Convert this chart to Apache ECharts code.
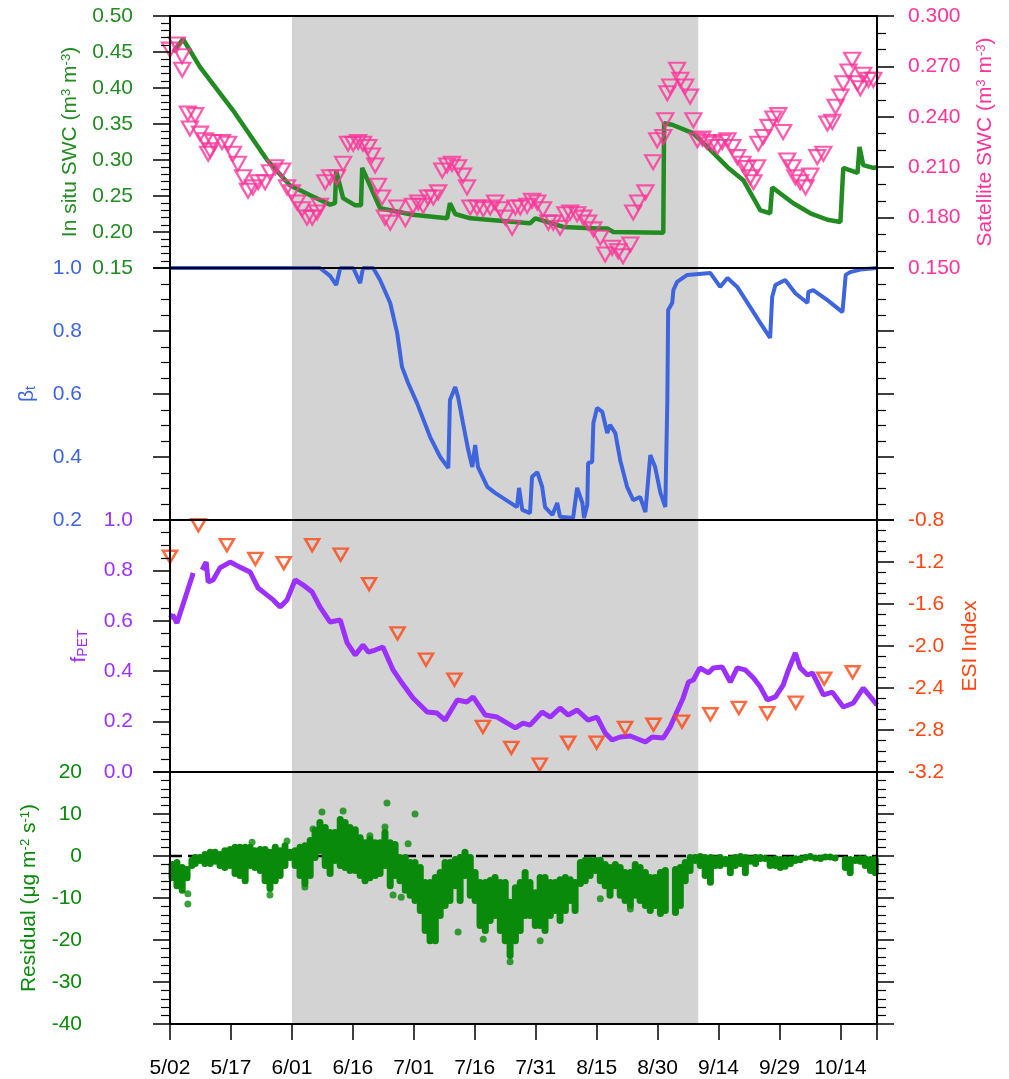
<!DOCTYPE html>
<html>
<head>
<meta charset="utf-8">
<script src="https://cdn.jsdelivr.net/npm/echarts@6/dist/echarts.min.js"></script>
<style>
  html, body { margin: 0; background: #fff; }
  #chart { width: 1009px; height: 1079px; }
</style>
</head>
<body>
<div id="chart"></div>
<script>
// x values are days after 5/02
const xTickLabels = ['5/02', '5/17', '6/01', '6/16', '7/01', '7/16', '7/31', '8/15', '8/30', '9/14', '9/29', '10/14']
const shadeStart = 30
const shadeEnd = 130

// in situ soil water content
const swcDays = [0.8, 3.2, 7.4, 15.5, 23.9, 29.5, 34.5, 39.4, 40.6, 40.9, 42.6, 45.6, 47.0, 47.3, 51.7, 59.8, 68.2, 68.9, 70.2, 73.9, 88.6, 89.9, 96.8, 105.1, 107.6, 109.1, 121.4, 121.6, 123.6, 128.8, 133.0, 137.2, 141.1, 145.3, 147.7, 148.2, 153.4, 157.6, 161.8, 165.0, 165.7, 169.2, 169.7, 170.6, 173.1, 174]
const swcVals = [0.45, 0.468, 0.429, 0.369, 0.30, 0.265, 0.251, 0.238, 0.24, 0.285, 0.247, 0.237, 0.237, 0.289, 0.233, 0.224, 0.219, 0.24, 0.225, 0.219, 0.212, 0.219, 0.207, 0.205, 0.205, 0.20, 0.199, 0.351, 0.349, 0.337, 0.314, 0.29, 0.272, 0.23, 0.226, 0.262, 0.24, 0.226, 0.217, 0.214, 0.289, 0.282, 0.318, 0.293, 0.289, 0.29]

// satellite soil water content
const satDays = [0.0, 1.7, 3.0, 3.0, 4.4, 6.2, 4.9, 7.4, 8.6, 9.9, 9.4, 10.6, 12.8, 14.3, 15.5, 16.7, 18.0, 19.2, 20.4, 21.7, 23.4, 24.6, 25.9, 27.6, 28.8, 30.0, 31.3, 32.5, 33.7, 35.0, 36.2, 36.9, 38.2, 39.4, 41.1,
  42.6, 43.8, 45.1, 46.3, 47.5, 48.8, 49.7, 50.5, 51.2, 52.2, 52.9, 54.2, 55.9, 57.9, 59.8, 61.1, 62.3, 63.5, 64.8, 66.0, 67.0, 68.2, 69.4, 70.9, 72.1, 73.1, 73.9, 75.6, 77.1, 78.8, 80.0, 81.3, 82.5, 84.2,
  85.0, 86.2, 87.9, 89.1, 90.4, 91.8, 93.1, 94.3, 96.0, 97.3, 98.5, 100.2, 101.7, 102.9, 104.2, 105.9, 107.1, 108.8, 110.3, 111.5, 113.3, 114.0, 115.2, 117.0, 118.9, 119.9, 121.4, 121.9, 122.4,
  123.1, 124.8, 125.6, 126.8, 128.0, 128.8, 129.8, 131.0, 132.2, 133.5, 134.7, 135.9, 137.2, 138.4, 139.6, 140.9, 142.1, 142.8, 143.6, 144.5, 144.8, 146.0, 147.3, 148.5, 149.7, 150.9, 151.9,
  153.2, 153.9, 155.1, 156.4, 157.6, 159.3, 160.8, 161.8, 163.0, 163.8, 165.0, 165.7, 167.0, 167.9, 169.2, 169.9, 170.6, 171.9, 173.1]
const satVals = [0.280, 0.283, 0.276, 0.268, 0.242, 0.241, 0.233, 0.230, 0.226, 0.220, 0.218, 0.225, 0.225, 0.224, 0.218, 0.212, 0.204, 0.196, 0.198, 0.201, 0.201, 0.207, 0.210, 0.208, 0.198, 0.195, 0.189, 0.185, 0.180, 0.180, 0.183, 0.187, 0.201, 0.204, 0.204,
  0.212, 0.224, 0.224, 0.225, 0.224, 0.222, 0.217, 0.211, 0.199, 0.192, 0.180, 0.177, 0.186, 0.179, 0.187, 0.189, 0.187, 0.192, 0.192, 0.195, 0.208, 0.211, 0.212, 0.210, 0.205, 0.198, 0.186, 0.186, 0.185, 0.186, 0.189, 0.185, 0.180, 0.174,
  0.186, 0.186, 0.187, 0.190, 0.189, 0.185, 0.177, 0.177, 0.174, 0.182, 0.183, 0.182, 0.180, 0.177, 0.173, 0.168, 0.158, 0.162, 0.160, 0.157, 0.164, 0.183, 0.189, 0.195, 0.213, 0.226, 0.228, 0.238, 0.254,
  0.258, 0.268, 0.262, 0.258, 0.252, 0.238, 0.226, 0.227, 0.225, 0.224, 0.222, 0.225, 0.226, 0.222, 0.216, 0.212, 0.2095, 0.204, 0.201, 0.210, 0.224, 0.228, 0.234, 0.239, 0.241, 0.231, 0.214,
  0.210, 0.204, 0.201, 0.198, 0.205, 0.216, 0.218, 0.236, 0.237, 0.246, 0.252, 0.260, 0.267, 0.274, 0.260, 0.257, 0.265, 0.262, 0.262]

// beta_t
const betaDays = [0, 36.9, 39.4, 40.9, 41.9, 45.1, 46.8, 47.5, 50.0, 51.7, 54.2, 55.9, 57.1, 58.6, 60.8, 64.0, 66.5, 68.5, 68.9, 70.2, 70.9, 72.1, 73.4, 74.4, 75.1, 75.8, 78.1, 80.0, 85.4, 85.9, 86.7, 88.6, 89.1, 90.4, 91.6, 92.3, 94.1, 95.3, 96.0, 99.2, 100.2, 101.5, 101.9, 102.7, 102.9, 103.9, 104.2, 105.1, 106.4, 107.6, 108.3, 109.6, 110.8, 112.5, 114.0, 115.7, 117.0, 118.2, 119.4, 120.7, 121.9, 122.4, 122.6, 123.6, 123.9, 124.8, 127.3, 133.0, 135.4, 137.2, 139.6, 142.8, 145.3, 147.7, 148.2, 149.0, 151.4, 153.9, 156.9, 157.1, 158.3, 161.8, 165.5, 166.3, 167.4, 169.9, 174]
const betaVals = [1.0, 1.0, 0.975, 0.946, 1.0, 1.0, 0.952, 1.0, 1.0, 0.962, 0.889, 0.794, 0.686, 0.635, 0.571, 0.464, 0.40, 0.365, 0.581, 0.622, 0.59, 0.508, 0.422, 0.368, 0.438, 0.368, 0.305, 0.286, 0.241, 0.302, 0.232, 0.222, 0.337, 0.352, 0.305, 0.241, 0.216, 0.254, 0.21, 0.206, 0.302, 0.254, 0.206, 0.248, 0.381, 0.384, 0.508, 0.556, 0.543, 0.476, 0.502, 0.476, 0.39, 0.305, 0.263, 0.273, 0.225, 0.406, 0.368, 0.286, 0.241, 0.581, 0.867, 0.889, 0.93, 0.956, 0.978, 0.984, 0.94, 0.968, 0.94, 0.876, 0.825, 0.778, 0.908, 0.946, 0.962, 0.92, 0.889, 0.924, 0.93, 0.898, 0.86, 0.978, 0.987, 0.995, 1.0]

// f_PET (null = missing)
const fpetDays = [0, 0.7, 1.7, 3.0, 4.2, 5.4, 5.7, 6.8, 7.9, 8.9, 9.4, 10.6, 12.3, 14.8, 17.2, 19.7, 21.7, 23.9, 25.4, 27.1, 28.8, 30.8, 32.8, 35.0, 36.9, 39.4, 41.9, 43.6, 45.6, 47.5, 48.8, 50.5, 52.4, 54.9, 57.1, 59.8, 63.3, 65.7, 67.7, 70.7, 73.1, 74.6, 77.6, 80.5, 83.0, 85.0, 86.9, 88.6, 91.6, 93.6, 96.0, 98.0, 100.2, 102.9, 105.1, 107.1, 108.8, 110.8, 113.3, 117.0, 118.7, 121.4, 123.1, 124.4, 126.3, 127.6, 128.8, 130.4, 132.5, 133.7, 135.9, 137.9, 139.6, 141.6, 143.6, 145.3, 147.0, 149.0, 150.9, 152.2, 153.9, 155.1, 156.9, 158.1, 160.8, 163.0, 165.7, 168.2, 170.6, 172.4, 174]
const fpetVals = [0.611, 0.623, 0.591, 0.655, 0.714, 0.774, 0.79, null, 0.802, 0.833, 0.754, 0.762, 0.81, 0.833, 0.813, 0.794, 0.73, 0.702, 0.683, 0.655, 0.683, 0.762, 0.742, 0.714, 0.655, 0.595, 0.603, 0.512, 0.464, 0.504, 0.476, 0.484, 0.496, 0.405, 0.353, 0.294, 0.238, 0.234, 0.206, 0.286, 0.278, 0.298, 0.226, 0.218, 0.194, 0.175, 0.194, 0.186, 0.238, 0.218, 0.254, 0.226, 0.246, 0.206, 0.218, 0.155, 0.127, 0.139, 0.143, 0.119, 0.139, 0.135, 0.179, 0.226, 0.294, 0.357, 0.365, 0.413, 0.393, 0.413, 0.417, 0.357, 0.413, 0.405, 0.373, 0.337, 0.286, 0.298, 0.345, 0.405, 0.472, 0.413, 0.385, 0.393, 0.306, 0.317, 0.258, 0.274, 0.333, 0.298, 0.266]

// ESI index
const esiDays = [0, 7, 14, 21, 28, 35, 42, 49, 56, 63, 70, 77, 84, 91, 98, 105, 112, 119, 126, 133, 140, 147, 154, 161, 168]
const esiVals = [-1.15, -0.85, -1.04, -1.17, -1.21, -1.04, -1.13, -1.41, -1.88, -2.13, -2.32, -2.77, -2.97, -3.13, -2.92, -2.92, -2.78, -2.75, -2.72, -2.65, -2.59, -2.64, -2.54, -2.31, -2.25]

// residual: upper and lower edge of the dot cloud per time step
const residDays = [0.5, 1.7, 3.0, 4.2, 5.4, 6.2, 7.4, 8.6, 9.9, 11.1, 12.3, 13.5, 14.8, 16.0, 17.2, 18.5, 19.7, 20.9, 22.2, 23.4, 24.6, 25.9, 27.1, 28.3, 29.5, 30.8, 32.0, 33.2, 34.5, 35.7, 36.9, 38.2, 39.4, 40.6, 41.9, 43.1, 44.3, 45.6, 46.8, 48.0, 49.2, 50.5, 51.7, 52.9, 54.2, 55.4, 56.6, 57.9, 59.1, 60.3, 61.6, 62.8, 64.0, 65.3, 66.5, 67.7, 68.9, 70.2, 71.4, 72.6, 73.9, 75.1, 76.3, 77.6, 78.8, 80.0, 81.3, 82.5, 83.7, 85.0, 86.2, 87.4, 88.6, 89.9, 91.1, 92.3, 93.6, 94.8, 96.0, 97.3, 98.5, 99.7, 101.0, 102.2, 103.4, 104.7, 105.9, 107.1, 108.3, 109.6, 110.8, 112.0, 113.3, 114.5, 115.7, 117.0, 118.2, 119.4, 120.7, 121.9, 124.4, 125.6, 126.8, 128.0, 129.3, 130.5, 131.7, 133.0, 134.2, 135.4, 136.7, 137.9, 139.1, 140.4, 141.6, 142.8, 144.1, 145.3, 146.5, 147.7, 149.0, 150.2, 151.4, 152.7, 153.9, 155.1, 156.4, 157.6, 158.8, 160.1, 161.3, 162.5, 163.7, 166.2, 167.4, 168.7, 169.9, 171.1, 172.4, 173.6]
const residHigh = [-1.2, -0.7, -1.9, -2.4, -0.2, 0.5, 0.5, 1.2, 1.7, 1.7, 1.2, 2.1, 2.4, 2.9, 2.9, 2.9, 2.9, 2.1, 2.4, 2.4, 1.7, 2.9, 2.1, 3.3, 1.7, 2.1, 2.9, 3.3, 4.5, 6.9, 8.8, 7.6, 6.4, 6.4, 9.5, 8.8, 7.6, 7.1, 5.2, 4.0, 4.8, 4.0, 4.0, 6.4, 4.0, 3.6, 0.5, 0.5, -0.7, -0.7, -1.9, -5.5, -5.5, -4.3, -3.1, -0.7, -0.7, 0, 0.5, 1.7, 0.5, -3.1, -5.5, -5.5, -5.0, -4.3, -5.5, -5.5, -10.2, -6.7, -5.5, -3.1, -5.5, -7.9, -4.3, -4.3, -5.5, -5.5, -4.8, -4.3, -4.8, -5.5, -0.7, -0.2, -0.2, -0.2, -0.2, -1.2, -1.9, -1.2, -1.9, -3.1, -3.1, -1.2, -1.9, -3.1, -4.3, -4.3, -3.1, -2.6, -2.4, -1.9, -0.7, 0.5, 0.5, 0.7, 0.5, 0.5, 0.2, 0.5, 0, 0.2, 0.5, 0.7, 0.5, 0.2, 0.5, 0.5, 0, 0, 0.2, 0, 0, 0, 0.2, 0.2, 0.5, 0.5, 0.2, 0.2, 0.2, 0.2, 0, 0, 0, 0, 0.2, 0.2, 0, 0]
const residLow = [-6.0, -7.9, -9.0, -6.0, -3.1, -2.6, -1.9, -2.6, -2.6, -2.1, -3.1, -3.6, -3.1, -5.0, -5.5, -6.7, -3.1, -3.6, -4.3, -6.7, -8.6, -6.7, -5.5, -3.1, -1.2, -3.1, -5.5, -7.4, -5.5, -1.2, 0.5, -3.1, -5.0, -1.9, -3.1, -3.6, -4.3, -4.3, -5.5, -6.7, -6.0, -5.5, -5.0, -3.1, -7.9, -5.5, -6.7, -9.0, -10.2, -11.4, -13.8, -18.6, -21.0, -21.0, -15.0, -12.6, -11.4, -7.9, -11.4, -5.5, -10.2, -11.4, -17.4, -18.6, -16.2, -15.0, -18.6, -21.0, -24.5, -21.0, -18.6, -15.0, -15.0, -17.4, -17.4, -18.6, -15.0, -13.8, -16.2, -13.8, -11.4, -13.8, -7.4, -6.7, -5.5, -4.3, -6.7, -7.9, -10.2, -7.9, -10.2, -11.4, -12.6, -10.2, -11.4, -12.6, -13.8, -12.6, -14.5, -13.8, -14.3, -12.6, -6.7, -4.3, -1.9, -3.1, -5.5, -7.1, -3.1, -3.1, -2.6, -4.8, -3.1, -2.6, -4.8, -2.1, -2.6, -1.4, -1.2, -3.1, -3.1, -3.6, -3.3, -2.6, -1.9, -1.7, -1.2, -0.7, -1.2, -1.4, -0.7, -0.7, -1.0, -3.6, -4.8, -1.9, -2.1, -3.1, -4.3, -4.8]
// isolated residual dots
const outlierDays = [4.4, 4.4, 20.2, 24.6, 28.8, 33.2, 35.2, 37.4, 42.6, 49.2, 52.9, 53.4, 54.9, 56.9, 58.6, 60.3, 70.9, 77.1, 83.7, 91.1, 105.9, 113.3]
const outlierVals = [-9.0, -11.4, 3.3, -9.3, 3.6, -7.4, 6.4, 10.5, 10.7, 4.8, 6.9, 12.6, -9.3, -9.8, 2.9, 10.0, -18.1, -19.8, -25.2, -20.2, -10.2, -12.6]

const FONT = '"Liberation Sans", Arial, Helvetica, sans-serif'
const GREEN = '#228B22'
const DOT = '#0A8A0A'
const PINK = '#FF3399'
const BLUE = '#3E64DE'
const PURPLE = '#9B30FF'
const ORANGE = '#FF4512'

const pair = (xs, ys) => xs.map((x, i) => [x, ys[i] === null ? '-' : ys[i]])

const chart = echarts.init(document.getElementById('chart'))

const panelTops = [16, 268, 520, 772]

const xAxes = panelTops.map((t, i) => ({
    type: 'value', gridIndex: i, position: 'bottom', min: 0, max: 174, interval: 15, z: 5,
    axisLine: { show: true, onZero: false, lineStyle: { color: '#000', width: 2 } },
    axisTick: { show: i === 3, length: 16, lineStyle: { color: '#000', width: 1.5 } },
    axisLabel: {
        show: i === 3, margin: 34, color: '#000', fontSize: 21, fontFamily: FONT,
        formatter: v => xTickLabels[Math.round(v / 15)] || ''
    },
    splitLine: { show: false }
}))
xAxes.push({
    type: 'value', gridIndex: 0, position: 'top', min: 0, max: 174, z: 5,
    axisLine: { show: true, onZero: false, lineStyle: { color: '#000', width: 2 } },
    axisTick: { show: false }, axisLabel: { show: false }, splitLine: { show: false }
})

const yAxis = (o) => ({
    type: 'value', gridIndex: o.grid, position: o.pos, min: o.min, max: o.max, interval: o.interval, z: 5,
    axisLine: { show: true, onZero: false, lineStyle: { color: '#000', width: 2 } },
    axisTick: { show: true, length: 17, lineStyle: { color: '#000', width: 1.5 } },
    minorTick: { show: true, splitNumber: o.minor, length: 9, lineStyle: { color: '#000', width: 1.2 } },
    splitLine: { show: false },
    axisLabel: {
        show: o.labels !== false, margin: o.margin, color: o.color, fontSize: 21, fontFamily: FONT,
        formatter: v => o.digits === 0 ? String(Math.round(v)) : v.toFixed(o.digits)
    },
    name: o.name || '', nameLocation: 'middle', nameRotate: 90, nameGap: o.gap || 0,
    nameTextStyle: {
        color: o.color, fontSize: 21, fontFamily: FONT,
        rich: {
            t: { color: o.color, fontSize: 21, fontFamily: FONT },
            s: { color: o.color, fontSize: 13, fontFamily: FONT, verticalAlign: 'top' },
            u: { color: o.color, fontSize: 14, fontFamily: FONT, verticalAlign: 'bottom' }
        }
    }
})

const shade = (i, yi) => ({
    type: 'line', xAxisIndex: i, yAxisIndex: yi, data: [], z: 1, silent: true,
    markArea: {
        silent: true,
        itemStyle: { color: '#D3D3D3' },
        data: [[{ xAxis: shadeStart }, { xAxis: shadeEnd }]]
    }
})

const option = {
    backgroundColor: '#fff',
    animation: false,
    grid: panelTops.map(t => ({ left: 170, right: 132, top: t, height: 252, show: false })),
    xAxis: xAxes,
    yAxis: [
        yAxis({ grid: 0, pos: 'left', min: 0.15, max: 0.5, interval: 0.05, minor: 5, digits: 2, margin: 37, color: GREEN,
            name: '{t|In situ SWC (m}{s|3}{t| m}{s|-3}{t|)}', gap: 89 }),
        yAxis({ grid: 0, pos: 'right', min: 0.15, max: 0.3, interval: 0.03, minor: 3, digits: 3, margin: 31, color: PINK,
            name: '{t|Satellite SWC (m}{s|3}{t| m}{s|-3}{t|)}', gap: 98 }),
        yAxis({ grid: 1, pos: 'left', min: 0.2, max: 1.0, interval: 0.2, minor: 4, digits: 1, margin: 88, color: BLUE,
            name: '{t|β}{u|t}', gap: 132 }),
        yAxis({ grid: 1, pos: 'right', min: 0.2, max: 1.0, interval: 0.2, minor: 4, digits: 1, labels: false, color: BLUE }),
        yAxis({ grid: 2, pos: 'left', min: 0, max: 1.0, interval: 0.2, minor: 4, digits: 1, margin: 37, color: PURPLE,
            name: '{t|f}{u|PET}', gap: 80 }),
        yAxis({ grid: 2, pos: 'right', min: -3.2, max: -0.8, interval: 0.4, minor: 4, digits: 1, margin: 31, color: ORANGE,
            name: 'ESI Index', gap: 83 }),
        yAxis({ grid: 3, pos: 'left', min: -40, max: 20, interval: 10, minor: 5, digits: 0, margin: 88, color: DOT,
            name: '{t|Residual (μg m}{s|-2}{t| s}{s|-1}{t|)}', gap: 130 }),
        yAxis({ grid: 3, pos: 'right', min: -40, max: 20, interval: 10, minor: 5, digits: 0, labels: false, color: DOT })
    ],
    series: [
        shade(0, 0), shade(1, 2), shade(2, 4), shade(3, 6),
        {
            type: 'line', xAxisIndex: 0, yAxisIndex: 0, data: pair(swcDays, swcVals), showSymbol: false, z: 3,
            lineStyle: { color: GREEN, width: 4.5 }
        },
        {
            type: 'scatter', xAxisIndex: 0, yAxisIndex: 1, data: pair(satDays, satVals), z: 4,
            symbol: 'triangle', symbolRotate: 180, symbolSize: [16, 14],
            itemStyle: { color: 'rgba(0,0,0,0)', borderColor: PINK, borderWidth: 2.2 }
        },
        {
            type: 'line', xAxisIndex: 1, yAxisIndex: 2, data: pair(betaDays, betaVals), showSymbol: false, z: 3, clip: false,
            lineStyle: { color: BLUE, width: 4 }
        },
        {
            type: 'line', xAxisIndex: 2, yAxisIndex: 4, data: pair(fpetDays, fpetVals), showSymbol: false, z: 3,
            lineStyle: { color: PURPLE, width: 5 }
        },
        {
            type: 'scatter', xAxisIndex: 2, yAxisIndex: 5, data: pair(esiDays, esiVals), z: 4, clip: false,
            symbol: 'triangle', symbolRotate: 180, symbolSize: [14, 12],
            itemStyle: { color: 'rgba(0,0,0,0)', borderColor: ORANGE, borderWidth: 2.5 }
        },
        {
            type: 'line', xAxisIndex: 3, yAxisIndex: 6, data: [[0, 0], [174, 0]], showSymbol: false, z: 2,
            lineStyle: { color: '#000', width: 2.5, type: [12, 6] }
        },
        {
            type: 'custom', xAxisIndex: 3, yAxisIndex: 6, z: 3,
            data: residDays.map((d, i) => [d, residHigh[i], residLow[i]]),
            encode: { x: 0, y: [1, 2] },
            renderItem: (params, api) => {
                const top = api.coord([api.value(0), api.value(1)])
                const bot = api.coord([api.value(0), api.value(2)])
                const w = 7
                let y = top[1]
                let h = bot[1] - top[1]
                if (h < w) {
                    y = (top[1] + bot[1]) / 2 - w / 2
                    h = w
                }
                return {
                    type: 'rect',
                    shape: { x: top[0] - w / 2, y: y, width: w, height: h, r: w / 2 },
                    style: { fill: DOT }
                }
            }
        },
        {
            type: 'scatter', xAxisIndex: 3, yAxisIndex: 6, data: pair(outlierDays, outlierVals), z: 3,
            symbolSize: 7, itemStyle: { color: DOT }
        }
    ]
}

chart.setOption(option)
</script>
</body>
</html>
